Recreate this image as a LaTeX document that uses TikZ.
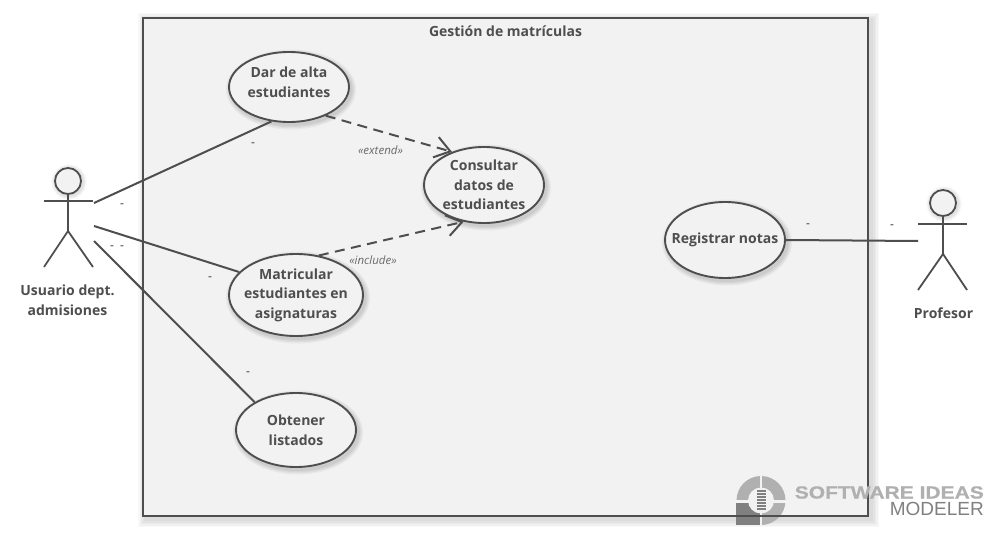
\documentclass[tikz,border=0pt]{standalone}
\usepackage{fontspec}
\setmainfont{Open Sans}
\newfontfamily\wmbold[FakeStretch=1.2,BoldFeatures={FakeBold=0.5}]{Liberation Sans}
\newfontfamily\wmplain{Liberation Sans}
\usetikzlibrary{arrows.meta,shapes.geometric}
\definecolor{ink}{HTML}{4E4E4E}
\definecolor{fillg}{HTML}{F2F2F2}
\definecolor{logol}{HTML}{B0B0B0}
\definecolor{logod}{HTML}{808080}
\tikzset{
  usecase/.style={ellipse,draw=ink,line width=1.9pt,fill=fillg,inner sep=-12pt,minimum width=#1,align=center,font=\fontsize{14}{19.5}\selectfont\bfseries,text=ink},
  shad/.style={black,opacity=0.04},
  softshad/.style={black,opacity=0.028},
  link/.style={draw=ink,line width=2pt},
  dep/.style={draw=ink,line width=2pt,dash pattern=on 10pt off 6.5pt,-{Straight Barb[length=15pt,width=21pt,line width=2pt]}},
  limb/.style={draw=ink,line width=1.8pt},
  actorname/.style={font=\fontsize{14}{19.5}\selectfont\bfseries,text=ink,align=center},
  stereo/.style={font=\fontsize{11.5}{13}\selectfont\itshape,text=ink!85,inner sep=0pt},
  dashlabel/.style={font=\fontsize{12}{12}\selectfont,text=black!80,inner sep=0pt},
  wm/.style={text=logol,inner sep=0pt}
}
\begin{document}
\begin{tikzpicture}[x=1pt,y=-1pt]
\useasboundingbox (0,0) rectangle (995,537);
\fill[white] (0,0) rectangle (995,537);
% frame shadow
\foreach \w in {16,13,10,7,4}{\draw[softshad,line width=\w pt] (146,21) rectangle (871,519);}
\draw[draw=ink,line width=2pt,fill=fillg] (143,18) rectangle (868,516);
\node[font=\fontsize{14}{16}\selectfont\bfseries,text=ink,inner sep=0pt] (title) at (505.5,31) {Gestión de matrículas};
% ellipse shadows
\foreach \cx/\cy/\rx/\ry in {289/87/60/35,484/185/60/38,296/295/67/41,296/430/60/37,725/240/60/38}{
  \foreach \w in {10,7.5,5,3}{\draw[shad,line width=\w pt] (\cx+2,\cy+2.5) ellipse [x radius=\rx,y radius=\ry];}
}
% head shadows
\foreach \cx/\cy in {68/181,943/203}{
  \foreach \w in {9,6.5,4}{\draw[shad,line width=\w pt] (\cx+1,\cy+1) circle [radius=13];}
}
% use cases
\node[usecase=120pt,minimum height=70pt] (dar) at (289,87) {Dar de alta\\estudiantes\rule[-9.5pt]{0pt}{9.5pt}};
\node[usecase=120pt,minimum height=76pt] (con) at (484,185) {Consultar\\datos de\\estudiantes};
\node[usecase=134pt,minimum height=82pt] (mat) at (296,295) {Matricular\\estudiantes en\\asignaturas};
\node[usecase=120pt,minimum height=74pt] (obt) at (296,430) {Obtener\\listados};
\node[usecase=120pt,minimum height=76pt] (reg) at (725,240) {Registrar notas};
% left actor
\node[circle,draw=ink,line width=1.8pt,fill=fillg,minimum size=26pt,inner sep=0pt] (headL) at (68,181) {};
\coordinate (armLa) at (43.5,201);
\coordinate (armLb) at (93,201);
\coordinate (hipL) at (68,231);
\coordinate (footLa) at (44,267);
\coordinate (footLb) at (93,267);
\draw[limb] (headL) -- (hipL);
\draw[limb] (armLa) -- (armLb);
\draw[limb] (footLa) -- (hipL) -- (footLb);
\node[actorname] (nameL) at (67.5,300) {Usuario dept.\\admisiones};
% right actor
\node[circle,draw=ink,line width=1.8pt,fill=fillg,minimum size=26pt,inner sep=0pt] (headR) at (943,203) {};
\coordinate (armRa) at (918,224);
\coordinate (armRb) at (967,224);
\coordinate (hipR) at (943,254);
\coordinate (footRa) at (918,290);
\coordinate (footRb) at (967,290);
\draw[limb] (headR) -- (hipR);
\draw[limb] (armRa) -- (armRb);
\draw[limb] (footRa) -- (hipR) -- (footRb);
\node[actorname] (nameR) at (943.5,313) {Profesor};
% connectors
\coordinate (aL1) at (94,203);
\coordinate (aL2) at (94,226);
\coordinate (aL3) at (94,241);
\coordinate (aR) at (918,241);
\draw[link] (aL1) -- (dar.243);
\draw[link] (aL2) -- (mat.158);
\draw[link] (aL3) -- (obt.146);
\draw[link] (reg.0) -- (aR);
\draw[dep] (dar.-38) -- (con.134);
\draw[dep] (mat.60) -- (con.-119);
\node[stereo] (ext) at (380.5,150) {«extend»};
\node[stereo] (inc) at (373,260) {«include»};
% small dash labels
\node[dashlabel] (d1) at (253,144.5) {-};
\node[dashlabel] (d2) at (122,205.5) {-};
\node[dashlabel] (d3) at (112,247.5) {-};
\node[dashlabel] (d4) at (122,247.5) {-};
\node[dashlabel] (d5) at (210,278.5) {-};
\node[dashlabel] (d6) at (248,373.5) {-};
\node[dashlabel] (d7) at (808,225.5) {-};
\node[dashlabel] (d8) at (892,226.5) {-};
% watermark
\fill[logol] (761,500.5) circle [radius=24.5];
\begin{scope}
\clip (761,500.5) circle [radius=25];
\fill[fillg] (759.7,470) rectangle (762.3,530);
\fill[fillg] (730,500) rectangle (790,502.5);
\end{scope}
\fill[logod] (736,502.5) rectangle (759.7,525);
\fill[fillg] (761,500.5) circle [radius=13];
\foreach \yy in {490,493,496,499,502,505,508}{\fill[logod] (757,\yy) rectangle (765.5,\yy+2);}
\draw[draw=ink,line width=2pt] (733,516) -- (790,516);
\node[wm,anchor=east,font=\fontsize{17.5}{19}\selectfont\wmbold\bfseries] (wm1) at (984,492.5) {SOFTWARE IDEAS};
\node[wm,anchor=east,text=logod,font=\fontsize{19}{20}\selectfont\wmplain] (wm2) at (984,509) {MODELER};
\end{tikzpicture}
\end{document}
